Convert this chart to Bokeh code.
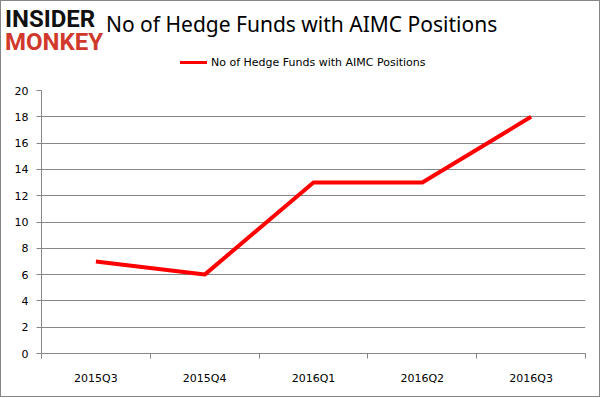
from bokeh.plotting import figure
from bokeh.layouts import column
from bokeh.models import FixedTicker, Range1d, Div
from bokeh.embed import file_html
from bokeh.resources import INLINE

quarters = ["2015Q3", "2015Q4", "2016Q1", "2016Q2", "2016Q3"]
funds = [7, 6, 13, 13, 18]
y_ticks = [0, 2, 4, 6, 8, 10, 12, 14, 16, 18, 20]
title_text = "No of Hedge Funds with AIMC Positions"
series_name = "No of Hedge Funds with AIMC Positions"
logo_top = "INSIDER"
logo_bottom = "MONKEY"

W = 598
HEAD_H = 83
MAIN_H = 312
LINE_RED = "#ff0000"
GRID = "#868686"

xs = [i + 0.5 for i in range(len(quarters))]

# ---- header: logo, title and legend ----
def span(text, left, top, font, size, color, weight="normal", line_height="1"):
    return (f'<span style="position:absolute;left:{left}px;top:{top}px;white-space:nowrap;'
            f'font-family:\'{font}\';font-size:{size}px;line-height:{line_height};color:{color};'
            f'font-weight:{weight};">{text}</span>')

header_html = (
    f'<div style="position:relative;width:{W}px;height:{HEAD_H}px;background:white;overflow:hidden;">'
    + span(logo_top, 4, 8, "Roboto", 24, "#111111", "bold", "20px")
    + span(logo_bottom, 4, 31, "Roboto", 24, "#d0392b", "bold", "20px")
    + span(title_text, 105, 13, "Noto Sans", 21, "#000000")
    + f'<span style="position:absolute;left:179px;top:60px;width:27px;height:3px;background:{LINE_RED};"></span>'
    + span(series_name, 210, 56, "DejaVu Sans", 11, "#000000")
    + '</div>'
)
hdr = Div(text=header_html, width=W, height=HEAD_H, margin=0,
          styles={"padding": "0", "margin": "0"})

# ---- main chart ----
p = figure(width=W, height=MAIN_H, output_backend="svg", toolbar_location=None,
           x_range=Range1d(0, len(quarters)), y_range=Range1d(0, 20),
           min_border_left=40, min_border_right=14, min_border_top=6, min_border_bottom=43)
p.outline_line_color = None
p.background_fill_color = "white"
p.border_fill_color = "white"

p.line(xs, funds, line_color=LINE_RED, line_width=4, legend_label=series_name)
p.legend.visible = False

ax = p.xaxis[0]
ax.ticker = FixedTicker(ticks=xs, minor_ticks=list(range(len(quarters) + 1)))
ax.major_label_overrides = {x: q for x, q in zip(xs, quarters)}
ax.major_tick_line_color = None
ax.minor_tick_line_color = GRID
ax.minor_tick_out = 5
ax.minor_tick_in = 0
ax.axis_line_color = GRID
ax.major_label_text_font = "DejaVu Sans"
ax.major_label_text_font_size = "11px"
ax.major_label_text_color = "#000000"
ax.major_label_standoff = 12

ay = p.yaxis[0]
ay.ticker = FixedTicker(ticks=y_ticks)
ay.minor_tick_line_color = None
ay.major_tick_line_color = GRID
ay.major_tick_out = 5
ay.major_tick_in = 0
ay.axis_line_color = GRID
ay.major_label_text_font = "DejaVu Sans"
ay.major_label_text_font_size = "11px"
ay.major_label_text_color = "#000000"
ay.major_label_standoff = 8

p.xgrid.grid_line_color = None
p.ygrid.grid_line_color = GRID
p.ygrid.ticker = FixedTicker(ticks=y_ticks)

layout = column(hdr, p, spacing=0, styles={"border": "1px solid #868686", "background": "white"})

open("out.html", "w").write(file_html(layout, INLINE))
